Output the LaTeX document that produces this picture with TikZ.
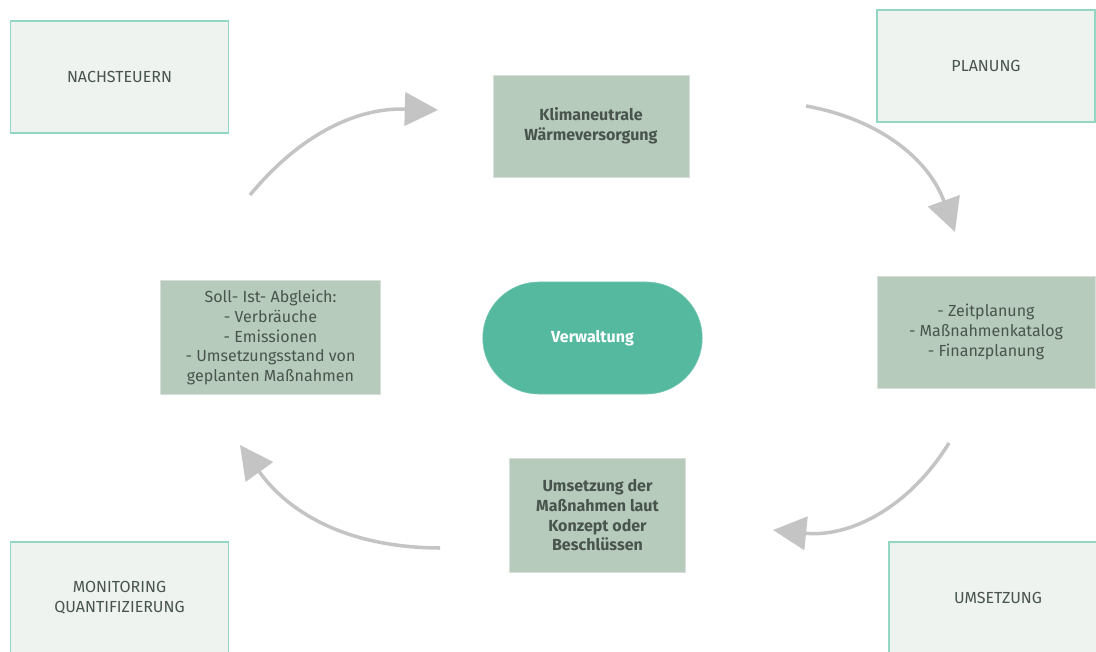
\documentclass[tikz,border=0pt]{standalone}
\usepackage{fontspec}
\setmainfont{Fira Sans}
\usetikzlibrary{arrows.meta,positioning,shapes.misc}
\definecolor{phaseFill}{HTML}{EEF3EF}
\definecolor{phaseLine}{HTML}{92D6C3}
\definecolor{stepFill}{HTML}{B6CBBB}
\definecolor{stepLine}{HTML}{D9DEDA}
\definecolor{coreFill}{HTML}{55B9A0}
\definecolor{txt}{HTML}{48544D}
\definecolor{cycle}{HTML}{C4C4C4}

\begin{document}
\begin{tikzpicture}[
    x=0.025cm, y=0.025cm,
    phase/.style={rectangle, draw=phaseLine, fill=phaseFill, line width=0.8pt, minimum width=5.45cm, minimum height=2.8cm, align=center, text=txt, font=\fontsize{11.4}{14}\selectfont},
    stepbox/.style={rectangle, draw=stepLine, fill=stepFill, line width=0.6pt, align=center, text=txt, font=\fontsize{11.4}{14}\selectfont},
    core/.style={rounded rectangle, fill=coreFill, draw=coreFill!80!white, minimum width=5.72cm, minimum height=2.8cm, text=white, font=\fontsize{11.4}{14}\selectfont\bfseries},
    cyclearrow/.style={-{Triangle[length=0.83cm, width=0.83cm]}, draw=cycle, line width=2.5pt}
]
\useasboundingbox (0,0) rectangle (1096,-651);

% Phases in the corners
\node[phase] (nach) at (119.5,-77) {NACHSTEUERN};
\node[phase] (plan) at (986,-66) {PLANUNG};
\node[phase] (moni) at (119.5,-598) {MONITORING\\QUANTIFIZIERUNG};
\node[phase] (ums) at (998,-598) {UMSETZUNG};

% Steps of the cycle
\node[stepbox, minimum width=4.9cm, minimum height=2.55cm, font=\fontsize{11.4}{14}\selectfont\bfseries] (klima) at (591,-126) {Klimaneutrale\\Wärmeversorgung};
\node[stepbox, minimum width=5.45cm, minimum height=2.8cm] (massn) at (986,-332) {- Zeitplanung\\- Maßnahmenkatalog\\- Finanzplanung};
\node[stepbox, minimum width=4.4cm, minimum height=2.83cm, font=\fontsize{11.4}{14}\selectfont\bfseries] (konzept) at (597.5,-515.5) {Umsetzung der\\Maßnahmen laut\\Konzept oder\\Beschlüssen};
\node[stepbox, minimum width=5.48cm, minimum height=2.83cm] (abgl) at (270.5,-337.5) {Soll- Ist- Abgleich:\\- Verbräuche\\- Emissionen\\- Umsetzungsstand von\\geplanten Maßnahmen};

% Centre
\node[core] (verw) at (592.5,-338) {Verwaltung};

% Cycle arrows
\coordinate (a1s) at (250,-195);
\coordinate (a1e) at (438,-110);
\coordinate (a2s) at (806,-106);
\coordinate (a2e) at (955,-232);
\coordinate (a3s) at (949,-443);
\coordinate (a3e) at (773,-530);
\coordinate (a4s) at (440,-548);
\coordinate (a4e) at (240,-445);
\draw[cyclearrow] (a1s) to[bend left=26] (a1e);
\draw[cyclearrow] (a2s) to[bend left=30] (a2e);
\draw[cyclearrow] (a3s) to[bend left=32] (a3e);
\draw[cyclearrow] (a4s) to[bend left=27] (a4e);

\end{tikzpicture}
\end{document}
